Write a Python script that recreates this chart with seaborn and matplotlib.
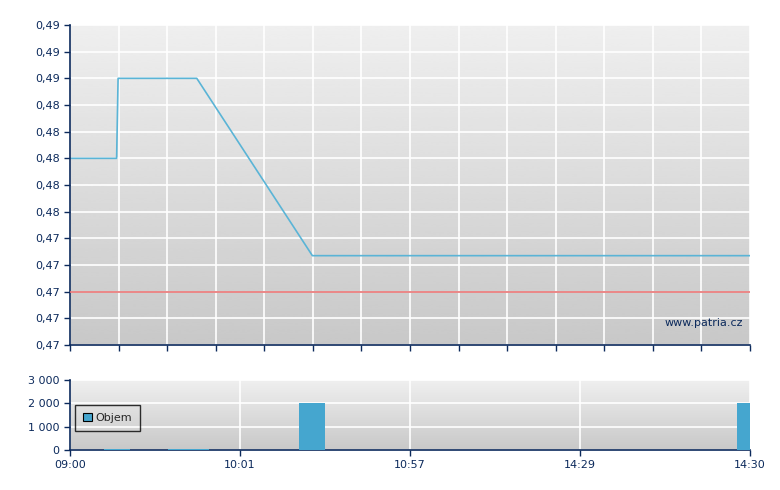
import numpy as np
import pandas as pd
import matplotlib
matplotlib.use("Agg")
import matplotlib.pyplot as plt
import seaborn as sns
from matplotlib.ticker import FuncFormatter

# ---- data ----
price_x = [0.0, 0.96, 0.99, 2.61, 4.99, 14.0]
price_y = [0.480, 0.480, 0.486, 0.486, 0.4727, 0.4727]
ref_price = 0.470
vol_x = [0.967, 2.285, 2.595, 4.98, 14.0]
vol_y = [40, 40, 40, 2000, 2000]
xtick_pos = [0, 3.5, 7, 10.5, 14]
xtick_labels = ["09:00", "10:01", "10:57", "14:29", "14:30"]
price_ticks = [0.466, 0.468, 0.470, 0.472, 0.474, 0.476, 0.478, 0.480,
               0.482, 0.484, 0.486, 0.488, 0.490]
vol_ticks = [0, 1000, 2000, 3000]

NAVY = "#0c2a5c"
LINE = "#5ab4d6"
BAR = "#45a6cf"
RED = "#e87474"

sns.set_theme(style="white")
plt.rcParams['font.family'] = ['DejaVu Sans']

fig = plt.figure(figsize=(7.8, 4.9), dpi=100)
ax1 = fig.add_axes([70/780, 1-345/490, 680/780, 320/490])
ax2 = fig.add_axes([70/780, 1-450/490, 680/780, 70/490])

def style(ax):
    grad = np.linspace(0.937, 0.785, 256).reshape(-1, 1)
    ax.imshow(grad, extent=[0, 1, 0, 1], transform=ax.transAxes, cmap="gray",
              vmin=0, vmax=1, aspect="auto", zorder=-10, interpolation="bicubic")
    for s in ["top", "right"]:
        ax.spines[s].set_visible(False)
    for s in ["left", "bottom"]:
        ax.spines[s].set_color(NAVY)
        ax.spines[s].set_linewidth(1.2)
    ax.tick_params(axis="both", colors=NAVY, direction="out", length=4,
                   width=1, labelsize=8, labelcolor=NAVY, left=True, bottom=True)
    ax.grid(True, color="white", linewidth=1.2)
    ax.set_axisbelow(True)

# ---- price panel ----
df = pd.DataFrame({"x": price_x, "price": price_y})
sns.lineplot(data=df, x="x", y="price", ax=ax1, color=LINE, linewidth=1.2,
             estimator=None, sort=False)
ax1.axhline(ref_price, color=RED, linewidth=1.2, zorder=3)
style(ax1)
ax1.set_xlim(0, 14)
ax1.set_ylim(price_ticks[0], price_ticks[-1])
ax1.set_yticks(price_ticks)
ax1.yaxis.set_major_formatter(FuncFormatter(lambda v, p: f"{v:.2f}".replace(".", ",")))
ax1.set_xticks(np.arange(0, 15, 1))
ax1.set_xticklabels([])
ax1.set_xlabel("")
ax1.set_ylabel("")
ax1.text(0.99, 0.069, "www.patria.cz", transform=ax1.transAxes, ha="right",
         va="center", color=NAVY, fontsize=8)

# ---- volume panel ----
ax2.bar(vol_x, vol_y, width=0.535, color=BAR, label="Objem", zorder=3,
        edgecolor="none")
style(ax2)
ax2.set_xlim(0, 14)
ax2.set_ylim(0, 3000)
ax2.set_yticks(vol_ticks)
ax2.yaxis.set_major_formatter(FuncFormatter(lambda v, p: f"{int(v):,}".replace(",", " ")))
ax2.set_xticks(xtick_pos)
ax2.set_xticklabels(xtick_labels)
leg = ax2.legend(loc="upper left", bbox_to_anchor=(0.007, 0.65), frameon=True,
                 fancybox=False, fontsize=8, handlelength=0.8, handleheight=0.8,
                 borderpad=0.75, handletextpad=0.3, borderaxespad=0)
leg.get_frame().set_edgecolor("black")
leg.get_frame().set_facecolor("none")
leg.get_frame().set_linewidth(1)
for h in leg.legend_handles:
    h.set_edgecolor("black")
    h.set_linewidth(0.8)

fig.savefig("out.png", dpi=100)
